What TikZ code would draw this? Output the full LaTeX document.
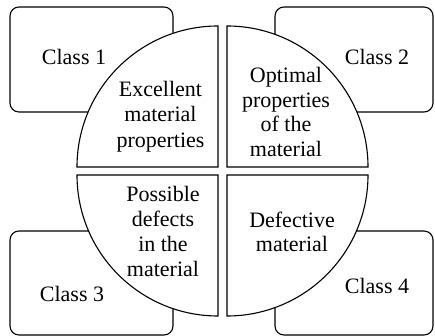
\documentclass[tikz,border=0pt]{standalone}
\usepackage{fontspec}
\setmainfont{Liberation Serif}
\begin{document}
\begin{tikzpicture}[x=1pt,y=1pt,
  classbox/.style={draw=black,line width=1.1pt,rounded corners=9pt,fill=white},
  quad/.style={draw=black,line width=1.1pt,fill=white},
  lbl/.style={inner sep=0pt,align=center,font=\fontsize{22}{24.5}\selectfont}]
\useasboundingbox (0,0) rectangle (435,336);
% class boxes
\draw[classbox] (10,224) rectangle (173,329);
\draw[classbox] (275,224) rectangle (433,329);
\draw[classbox] (10,1) rectangle (173,105);
\draw[classbox] (275,1) rectangle (433,105);
% quadrants
\draw[quad] (218,169) -- (77,169) arc[start angle=180,end angle=90,radius=141] -- cycle;
\draw[quad] (227,169) -- (227,310) arc[start angle=90,end angle=0,radius=141] -- cycle;
\draw[quad] (218,161) -- (77,161) arc[start angle=180,end angle=270,radius=141] -- cycle;
\draw[quad] (227,161) -- (368,161) arc[start angle=0,end angle=-90,radius=141] -- cycle;
% labels
\node[lbl] (c1) at (74,279) {Class 1};
\node[lbl] (c2) at (377,279) {Class 2};
\node[lbl] (c3) at (72,42) {Class 3};
\node[lbl] (c4) at (377,50) {Class 4};
\node[lbl,font=\fontsize{22}{25.5}\selectfont] (q1) at (160.5,219.5) {Excellent\\material\\properties};
\node[lbl] (q2) at (286,224) {Optimal\\properties\\of the\\material};
\node[lbl,font=\fontsize{22}{25}\selectfont] (q3) at (163,105) {Possible\\defects\\in the\\material};
\node[lbl] (q4) at (292,104) {Defective\\material};
\end{tikzpicture}
\end{document}
